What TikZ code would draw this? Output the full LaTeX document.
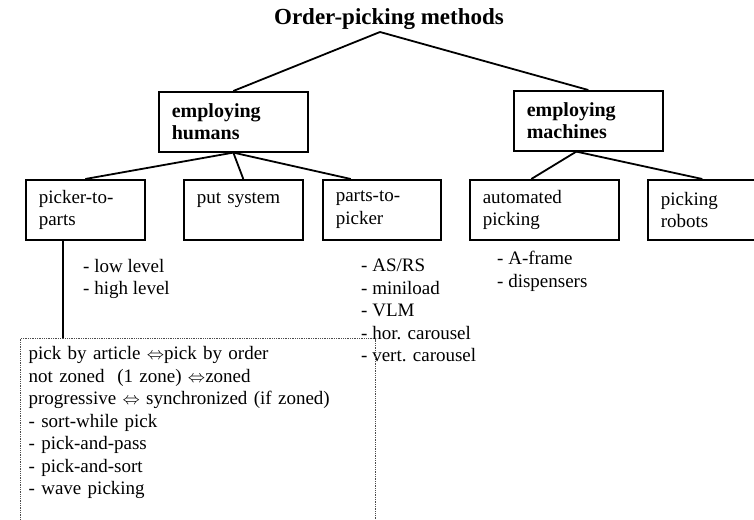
\documentclass[tikz,border=0pt]{standalone}
\usepackage{fontspec}
\setmainfont{Liberation Serif}
\tikzset{
  catbox/.style={draw, line width=1.6pt, anchor=north west, align=left, inner xsep=13pt, inner ysep=0pt, minimum height=60pt, font=\fontsize{19}{22.5}\selectfont},
  headbox/.style={catbox, font=\fontsize{20}{22.5}\selectfont\bfseries},
  listtext/.style={anchor=north west, align=left, inner sep=0pt, font=\fontsize{19}{22.5}\selectfont},
  link/.style={line width=1.8pt}
}
\begin{document}
\begin{tikzpicture}[x=1pt,y=-1pt]
\useasboundingbox (0,0) rectangle (754,519);
\node[font=\fontsize{23}{24}\selectfont\bfseries, anchor=south, inner sep=2pt] (title) at (389,32) {Order-picking methods};

\node[headbox, text width=123pt] (humans) at (158,91) {employing\\humans};
\node[headbox, text width=123pt] (machines) at (513,90) {employing\\machines};

\node[catbox, text width=93pt] (ptp) at (25,179) {picker-to-\\parts};
\node[catbox, text width=93pt] (put) at (183,179) {put system\\\mbox{}};
\node[catbox, text width=92pt] (ptpk) at (322,179) {parts-to-\\picker};
\node[catbox, text width=123pt] (auto) at (469,179) {automated\\picking};
\node[catbox, text width=83pt] (robots) at (647,179) {picking\\robots};

\node[listtext] (levels) at (83,259) {- low level\\- high level};
\node[listtext] (aslist) at (361,259) {- AS/RS\\- miniload\\- VLM\\- hor. carousel\\- vert. carousel};
\node[listtext] (machlist) at (497,251) {- A-frame\\- dispensers};

\node[anchor=north west, draw=black!70, densely dotted, line width=1.3pt, align=left, inner xsep=8pt, inner ysep=8pt, text width=339pt, text depth=180pt, font=\fontsize{19}{22.5}\selectfont] (modes) at (20,338) {pick by article $\Leftrightarrow$pick by order\\not zoned\ \ (1 zone) $\Leftrightarrow$zoned\\progressive $\Leftrightarrow$ synchronized (if zoned)\\- sort-while pick\\- pick-and-pass\\- pick-and-sort\\- wave picking};

\draw[link] ([xshift=-9pt]title.south) -- (humans.north);
\draw[link] ([xshift=-9pt]title.south) -- (machines.north);
\draw[link] (humans.south) -- (ptp.north);
\draw[link] (humans.south) -- (put.north);
\draw[link] (humans.south) -- ([xshift=-31pt]ptpk.north);
\draw[link] ([xshift=-12pt]machines.south) -- ([xshift=-13pt]auto.north);
\draw[link] ([xshift=-12pt]machines.south) -- (robots.north);
\draw[link] ([xshift=-22pt]ptp.south) -- ([xshift=-22pt]ptp.south |- modes.north);
\end{tikzpicture}
\end{document}
